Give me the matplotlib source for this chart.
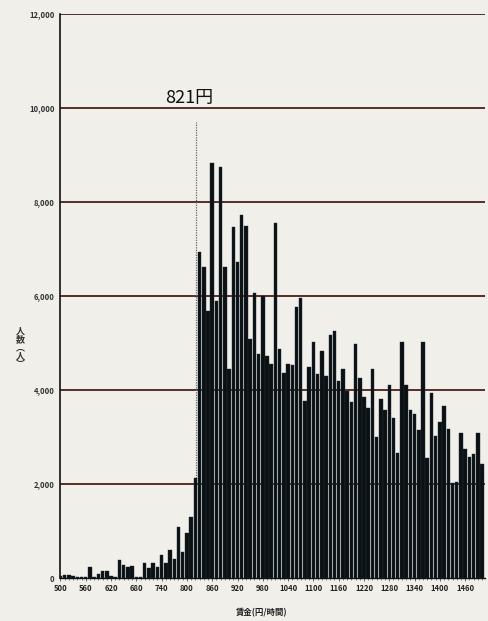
import matplotlib
matplotlib.use("Agg")
import matplotlib.pyplot as plt
from matplotlib.ticker import FixedLocator, MultipleLocator

plt.rcParams['font.family'] = ['Noto Sans CJK JP', 'DejaVu Sans']

# ---- data ----
wage_bins = list(range(500, 1501, 10))          # 賃金 (円/時間), 10円刻み
workers_low = [40, 70, 60, 40, 15, 30, 20, 230, 20, 90,
               140, 140, 40, 20, 380, 280, 230, 250, 15, 15,
               330, 210, 330, 240, 490, 320, 600, 400, 1090, 560,
               950, 1300, 2130]                  # 500–820
workers_high = [6940, 6620, 5680, 8820, 5900, 8740, 6620, 4440, 7470, 6720,
                7720, 7490, 5090, 6070, 4770, 5990, 4730,          # 830–990
                4550, 7560, 4870, 4370, 4550, 4530, 5760, 5960, 3760, 4500,
                5030, 4340, 4840, 4300, 5170, 5260, 4200,          # 1000–1160
                4440, 3970, 3750, 4980, 4250, 3860, 3610, 4440, 2990, 3800,
                3570, 4110, 3400, 2650, 5030, 4110, 3570, 3500,    # 1170–1340
                3150, 5030, 2550, 3940, 3020, 3310, 3650, 3160, 2030, 2050,
                3080, 2740, 2570, 2640, 3080, 2420]                # 1350–1500
workers = workers_low + workers_high

min_wage = 821
min_wage_label = "821円"
min_wage_line_top = 9700

y_ticks = [0, 2000, 4000, 6000, 8000, 10000, 12000]
y_tick_labels = ["0", "2,000", "4,000", "6,000", "8,000", "10,000", "12,000"]
x_ticks = list(range(500, 1461, 60))
x_tick_labels = [str(v) for v in x_ticks]

# ---- figure ----
bg = '#f0efea'
fig = plt.figure(figsize=(4.89, 6.21), dpi=100, facecolor=bg)
ax = fig.add_axes([0.1227, 0.0692, 0.8691, 0.9083], facecolor=bg)

# grid lines
for yv in y_ticks[1:]:
    ax.axhline(yv, color='#4a1f1a', lw=1.3, zorder=1)

# minimum wage dotted line
ax.plot([min_wage, min_wage], [0, min_wage_line_top], color='#666666',
        lw=0.9, ls=(0, (1, 1)), zorder=1.5)

ax.bar(wage_bins, workers, width=8.3, color='#0c1013',
       edgecolor='#1d3338', linewidth=0.3, zorder=2)

ax.annotate(min_wage_label, xy=(min_wage, 10000), xytext=(-5, 0.5),
            textcoords='offset points', ha='center', va='bottom',
            fontsize=13, color='#111111', zorder=3)

ax.set_xlim(499, 1507)
ax.set_ylim(0, 12000)

ax.yaxis.set_major_locator(FixedLocator(y_ticks))
ax.set_yticklabels(y_tick_labels)
ax.xaxis.set_major_locator(FixedLocator(x_ticks))
ax.set_xticklabels(x_tick_labels)
ax.xaxis.set_minor_locator(MultipleLocator(10))

ax.tick_params(axis='y', length=0, pad=4, labelsize=5.5, labelcolor='#333333')
ax.tick_params(axis='x', which='major', length=2, width=0.5, pad=2,
               labelsize=5.5, labelcolor='#222222', color='#333333')
ax.tick_params(axis='x', which='minor', length=1.5, width=0.4, color='#333333')
for lab in ax.get_xticklabels() + ax.get_yticklabels():
    lab.set_fontweight('bold')

for s in ['top', 'right']:
    ax.spines[s].set_visible(False)
ax.spines['left'].set_color('#111111')
ax.spines['left'].set_linewidth(1.2)
ax.spines['bottom'].set_color('#111111')
ax.spines['bottom'].set_linewidth(1.0)

fig.text(262 / 489, 1 - 613 / 621, "賃金(円/時間)", ha='center', va='center',
         fontsize=6, color='#222222', fontweight='bold')
fig.text(20 / 489, 1 - 348 / 621, "人\n数\n︵\n人\n︶", ha='center', va='center',
         fontsize=6.5, color='#333333', fontweight='bold', linespacing=0.9)

fig.savefig("out.png", dpi=100, facecolor=bg)
